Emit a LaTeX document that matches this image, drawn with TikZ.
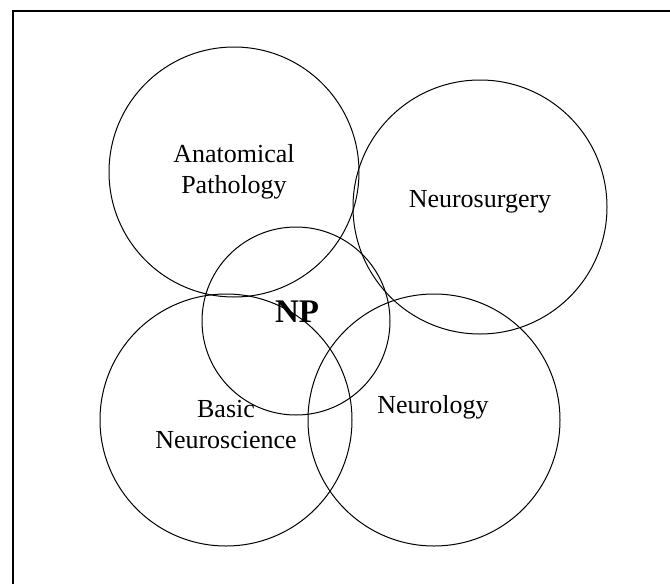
\documentclass[tikz,border=0pt]{standalone}
\usepackage{fontspec}
\setmainfont{Liberation Serif}

\begin{document}
\begin{tikzpicture}[x=1pt,y=-1pt,
  every node/.style={font=\fontsize{26}{31}\selectfont, align=center, inner sep=0pt},
  area/.style={line width=1pt}]
  \useasboundingbox (0,0) rectangle (670,584);

  % Frame
  \draw[line width=1.5pt] (13,584) -- (13,11) -- (670,11);

  % Circles
  \draw[area] (234,172) circle[radius=125];
  \draw[area] (480,207) circle[radius=127];
  \draw[area] (226,420) circle[radius=126];
  \draw[area] (434,420) circle[radius=126];
  \draw[area] (296,321) circle[radius=94];

  % Labels
  \node (anat)  at (234,172) {Anatomical\\Pathology};
  \node (surg)  at (480,202) {Neurosurgery};
  \node (basic) at (226,425) {Basic\\Neuroscience};
  \node (neuro) at (433,407) {Neurology};
  \node[font=\fontsize{33}{36}\selectfont\bfseries] (np) at (297,312) {NP};
\end{tikzpicture}
\end{document}
